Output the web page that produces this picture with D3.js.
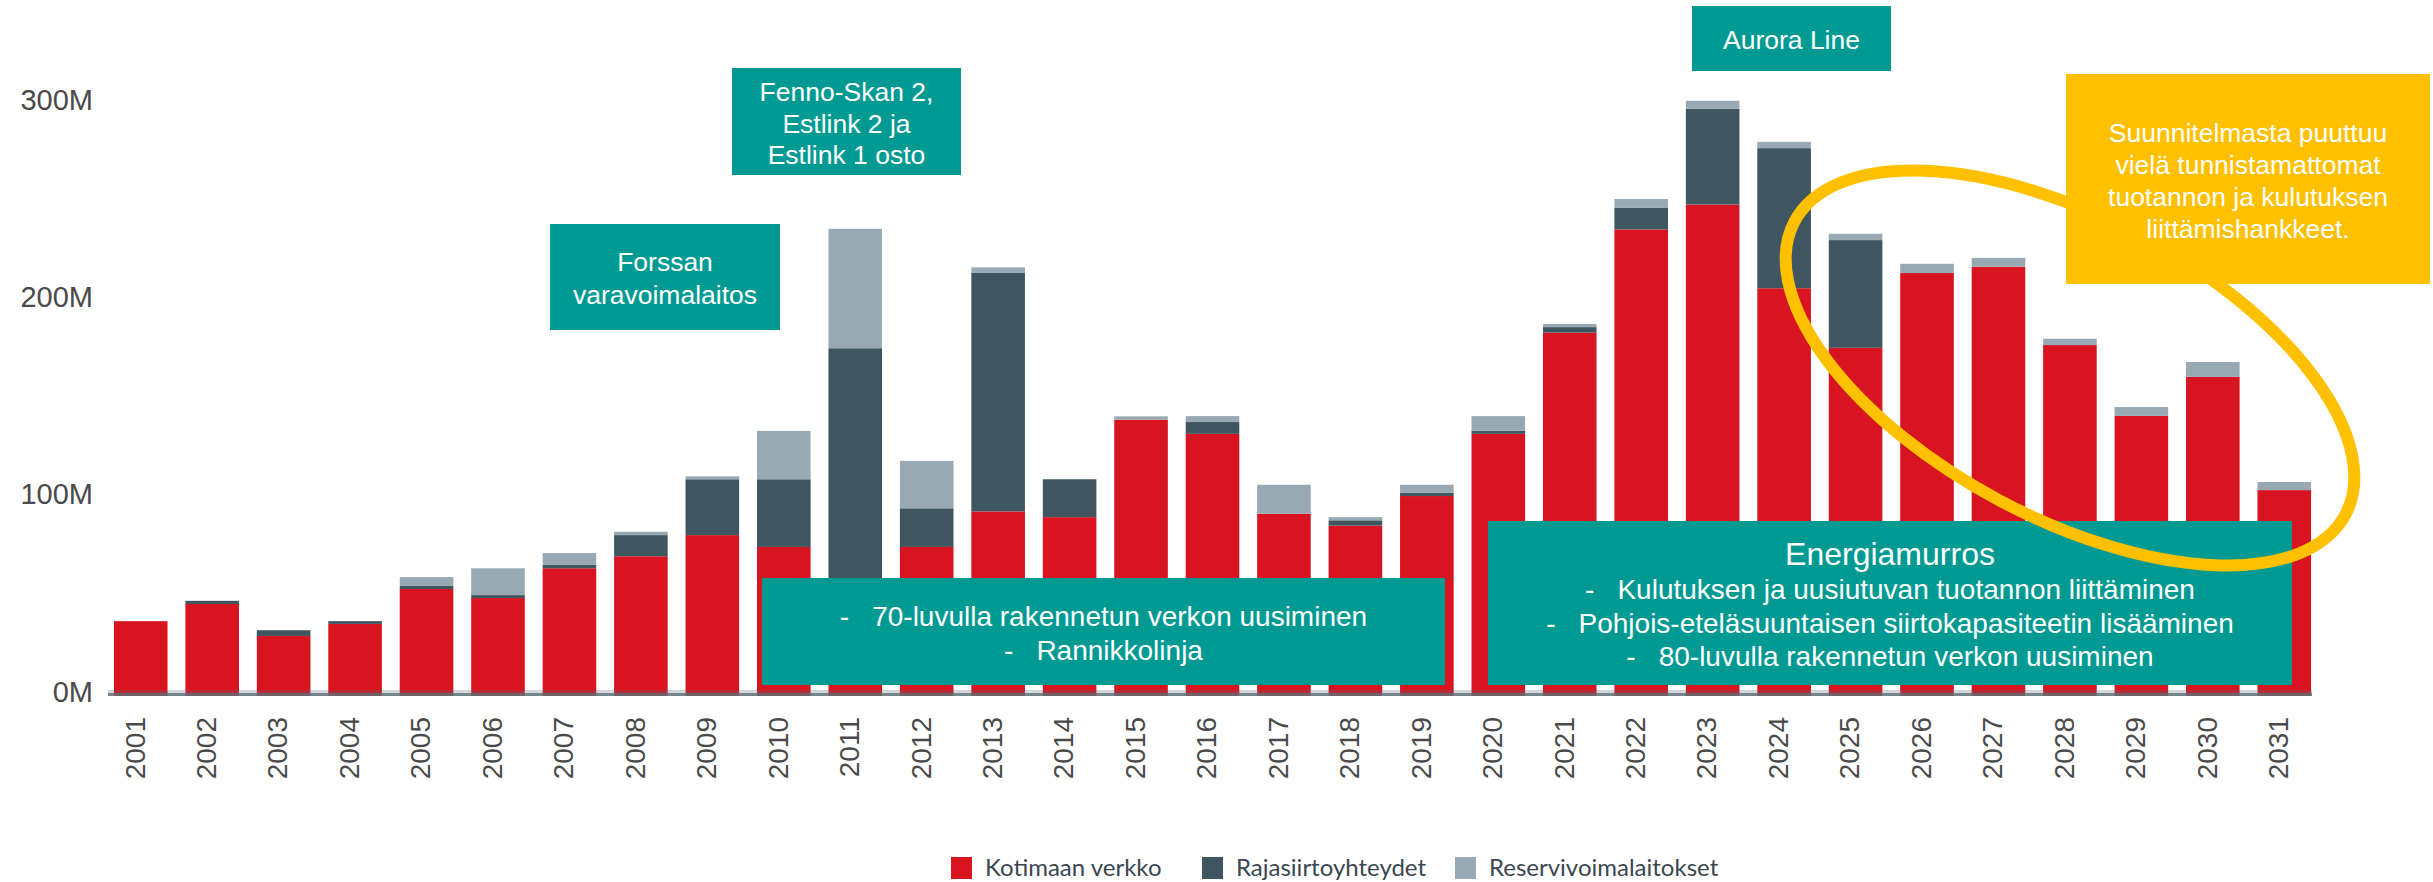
<!DOCTYPE html>
<html>
<head>
<meta charset="utf-8">
<script src="https://cdn.jsdelivr.net/npm/d3@7"></script>
<style>
  html, body { margin: 0; padding: 0; background: #fff; }
  svg { display: block; }
  .note text { font-family: "Liberation Sans", Arial, sans-serif; fill: #fff; }
  .axis text { font-family: "Liberation Sans", Arial, sans-serif; fill: #4a4a4a; }
  .legend text { font-family: Lato, "Open Sans", sans-serif; fill: #3b4650; }
</style>
</head>
<body>
<div class="chart"></div>
<script>
// data, M€ per year
const years = ['2001', '2002', '2003', '2004', '2005', '2006', '2007', '2008', '2009', '2010',
  '2011', '2012', '2013', '2014', '2015', '2016', '2017', '2018', '2019', '2020',
  '2021', '2022', '2023', '2024', '2025', '2026', '2027', '2028', '2029', '2030', '2031'];

const kotimaanVerkko = [35.4, 44.1, 27.9, 34, 51.7, 47.1, 62.2, 68.3, 79, 73,
  50, 73, 91, 88.1, 137.5, 130.3, 89.8, 83.8, 98.8, 130.3,
  181.6, 233.9, 246.5, 204.1, 173.9, 211.8, 215, 175.3, 139.4, 159.2, 101.8];

const rajasiirtoyhteydet = [0, 1.6, 2.9, 1.4, 1.5, 1.5, 1.7, 10.7, 28.3, 34.3,
  123.7, 19.6, 121, 19.2, 0, 6, 0, 2.7, 1.6, 1.6,
  2.8, 10.9, 48.5, 71, 54.6, 0, 0, 0, 0, 0, 0];

const reservivoimalaitokset = [0, 0, 0, 0, 4.5, 13.6, 6, 1.7, 1.5, 24.5,
  60.5, 24, 2.7, 0, 1.7, 3, 14.7, 1.6, 4.1, 7.4,
  1.6, 4.5, 4.1, 3.2, 3.2, 4.7, 4.5, 3.2, 4.5, 7.5, 4.1];

const seriesNames = ['Kotimaan verkko', 'Rajasiirtoyhteydet', 'Reservivoimalaitokset'];
const yTicks = [0, 100, 200, 300];

const COLORS = ['#d7141f', '#3f5560', '#98a9b4'];
const TEAL = '#009a93';
const YELLOW = '#ffc000';

// annotation boxes (layout only)
const notes = [
  { x: 550, y: 224, w: 230, h: 106, size: 26.5, lines: [['', 'Forssan', 262], ['', 'varavoimalaitos', 295]] },
  { x: 732, y: 68, w: 229, h: 107, size: 26.5, lines: [['', 'Fenno-Skan 2,', 92], ['', 'Estlink 2 ja', 123.5], ['', 'Estlink 1 osto', 155]] },
  { x: 1692, y: 6, w: 199, h: 65, size: 26.5, lines: [['', 'Aurora Line', 40]] },
  { x: 762, y: 578, w: 683, h: 107, size: 28, lines: [['-', '70-luvulla rakennetun verkon uusiminen', 616], ['-', 'Rannikkolinja', 650.5]] },
  { x: 1488, y: 521, w: 804, h: 164, size: 28, title: ['Energiamurros', 553.5, 32], lines: [
    ['-', 'Kulutuksen ja uusiutuvan tuotannon liittäminen', 589.5],
    ['-', 'Pohjois-eteläsuuntaisen siirtokapasiteetin lisääminen', 623],
    ['-', '80-luvulla rakennetun verkon uusiminen', 656]] }
];

const callout = { x: 2066, y: 74, w: 364, h: 210, size: 26.5, lines: [
  'Suunnitelmasta puuttuu', 'vielä tunnistamattomat', 'tuotannon ja kulutuksen', 'liittämishankkeet.'],
  lineY: [132.5, 165, 197, 229] };

const render = () => {
  var svg = d3.select('.chart').append('svg')
    .attr('width', 2433)
    .attr('height', 882);

  var table = years.map((yr, i) => ({
    year: yr,
    k0: kotimaanVerkko[i],
    k1: rajasiirtoyhteydet[i],
    k2: reservivoimalaitokset[i]
  }));

  var stack = d3.stack().keys(['k0', 'k1', 'k2']);
  var layers = stack(table);

  var x = d3.scaleBand().domain(years).range([105, 2320]).paddingInner(0.25).paddingOuter(0.125);
  var y = d3.scaleLinear().domain([0, 300]).range([691, 99]);

  // bars
  svg.append('g').selectAll('g')
    .data(layers)
    .enter().append('g')
    .attr('fill', (d, i) => COLORS[i])
    .selectAll('rect')
    .data(d => d)
    .enter().append('rect')
    .attr('x', d => x(d.data.year))
    .attr('y', d => y(d[1]))
    .attr('width', x.bandwidth())
    .attr('height', d => y(d[0]) - y(d[1]) + (d[0] === 0 ? 5 : 0));

  // baseline
  svg.append('line')
    .attr('x1', 108).attr('x2', 2312)
    .attr('y1', y(0) + 0.5).attr('y2', y(0) + 0.5)
    .attr('stroke', '#5e6f78').attr('stroke-opacity', 0.28).attr('stroke-width', 3);
  svg.append('line')
    .attr('x1', 108).attr('x2', 2312)
    .attr('y1', y(0) + 3.5).attr('y2', y(0) + 3.5)
    .attr('stroke', '#5e6f78').attr('stroke-opacity', 0.85).attr('stroke-width', 3);

  // y axis
  var yAxis = svg.append('g')
    .attr('class', 'axis')
    .attr('transform', 'translate(100, 0)')
    .call(d3.axisLeft(y).tickValues(yTicks).tickFormat(d => d + 'M').tickSize(0).tickPadding(7));
  yAxis.select('.domain').remove();
  yAxis.selectAll('text')
    .attr('font-size', 29)
    .attr('font-family', null)
    .attr('dy', '0.35em');

  // x axis
  var xAxis = svg.append('g')
    .attr('class', 'axis')
    .attr('transform', 'translate(0, ' + y(0) + ')')
    .call(d3.axisBottom(x).tickSize(0));
  xAxis.select('.domain').remove();
  xAxis.selectAll('text')
    .attr('font-size', 28)
    .attr('font-family', null)
    .attr('transform', 'rotate(-90)')
    .attr('x', -26)
    .attr('y', -6)
    .attr('dy', '0.35em')
    .attr('text-anchor', 'end');

  // teal notes
  var note = svg.selectAll('.note')
    .data(notes)
    .enter().append('g')
    .attr('class', 'note');

  note.append('rect')
    .attr('x', d => d.x).attr('y', d => d.y)
    .attr('width', d => d.w).attr('height', d => d.h)
    .attr('fill', TEAL);

  note.each(function (d) {
    var g = d3.select(this);
    var cx = d.x + d.w / 2;
    if (d.title) {
      g.append('text')
        .attr('x', cx).attr('y', d.title[1])
        .attr('dy', '0.35em')
        .attr('text-anchor', 'middle')
        .attr('font-size', d.title[2])
        .text(d.title[0]);
    }
    d.lines.forEach(l => {
      var t = g.append('text')
        .attr('x', cx).attr('y', l[2])
        .attr('dy', '0.35em')
        .attr('text-anchor', 'middle')
        .attr('font-size', d.size);
      if (l[0]) {
        t.append('tspan').text(l[0]);
        t.append('tspan').attr('dx', 23).text(l[1]);
      } else {
        t.text(l[1]);
      }
    });
  });

  // yellow ellipse around the unplanned years
  svg.append('ellipse')
    .attr('transform', 'translate(2070, 368) rotate(28)')
    .attr('rx', 312)
    .attr('ry', 150)
    .attr('fill', 'none')
    .attr('stroke', YELLOW)
    .attr('stroke-width', 12);

  var co = svg.append('g').attr('class', 'note');
  co.append('rect')
    .attr('x', callout.x).attr('y', callout.y)
    .attr('width', callout.w).attr('height', callout.h)
    .attr('fill', YELLOW);
  co.selectAll('text')
    .data(callout.lines)
    .enter().append('text')
    .attr('x', callout.x + callout.w / 2)
    .attr('y', (d, i) => callout.lineY[i])
    .attr('dy', '0.35em')
    .attr('text-anchor', 'middle')
    .attr('font-size', callout.size)
    .text(d => d);

  // legend
  var legendX = [951, 1202, 1455];
  var legend = svg.append('g')
    .attr('class', 'legend')
    .selectAll('g')
    .data(seriesNames)
    .enter().append('g')
    .attr('transform', (d, i) => 'translate(' + legendX[i] + ', 857)');

  legend.append('rect')
    .attr('width', 21)
    .attr('height', 22)
    .attr('fill', (d, i) => COLORS[i]);

  legend.append('text')
    .attr('x', 34)
    .attr('y', 11)
    .attr('dy', '0.35em')
    .attr('font-size', 24)
    .text(d => d);
};

render();
</script>
</body>
</html>
